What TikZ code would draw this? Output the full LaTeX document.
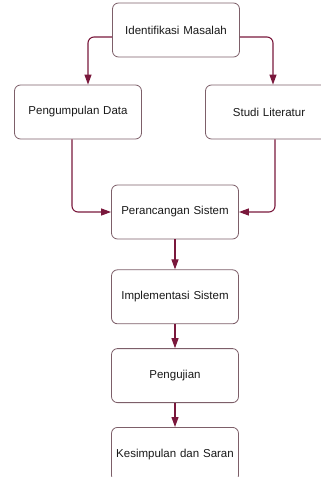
\documentclass[tikz,border=0pt]{standalone}
\usepackage{fontspec}
\setmainfont{Liberation Sans}
\usepackage{xcolor}
\usepackage{tikz}
\usetikzlibrary{arrows.meta,positioning,calc}

\definecolor{flowred}{RGB}{122,24,60}
\definecolor{boxline}{RGB}{125,95,105}

\begin{document}
\begin{tikzpicture}[x=1pt, y=1pt, node distance=24pt,
    stepbox/.style={rectangle, draw=boxline, line width=0.8pt, fill=white, text width=118pt, align=center,
        minimum width=127pt, minimum height=54pt, rounded corners=6pt, font=\fontsize{11.5}{13}\selectfont, text=black!90},
    flow/.style={draw=flowred, line width=1.1pt, rounded corners=6pt, -{Triangle[length=10pt,width=7pt]}}]

    \useasboundingbox (0,0) rectangle (321,-477);

    \node[stepbox] (masalah) at (176,-30) {Identifikasi Masalah};
    \node[stepbox] (data) at (78,-112) {Pengumpulan Data};
    \node[stepbox] (studi) at (269,-112) {Studi Literatur};

    \node[stepbox] (rancang) at (175,-212) {Perancangan Sistem};
    \node[stepbox, below=30pt of rancang] (implementasi) {Implementasi Sistem};
    \node[stepbox, below=of implementasi] (uji) {Pengujian};
    \node[stepbox, below=of uji] (simpulan) {Kesimpulan dan Saran};

    \draw[flow] ([yshift=-7pt]masalah.west) -| ([xshift=10pt]data.north);
    \draw[flow] ([yshift=-7pt]masalah.east) -| ([xshift=4pt]studi.north);
    \draw[flow] ([xshift=-6pt]data.south) |- (rancang.west);
    \draw[flow] ([xshift=6pt]studi.south) |- (rancang.east);
    \draw[flow] (rancang) -- (implementasi);
    \draw[flow] (implementasi) -- (uji);
    \draw[flow] (uji) -- (simpulan);

\end{tikzpicture}
\end{document}
